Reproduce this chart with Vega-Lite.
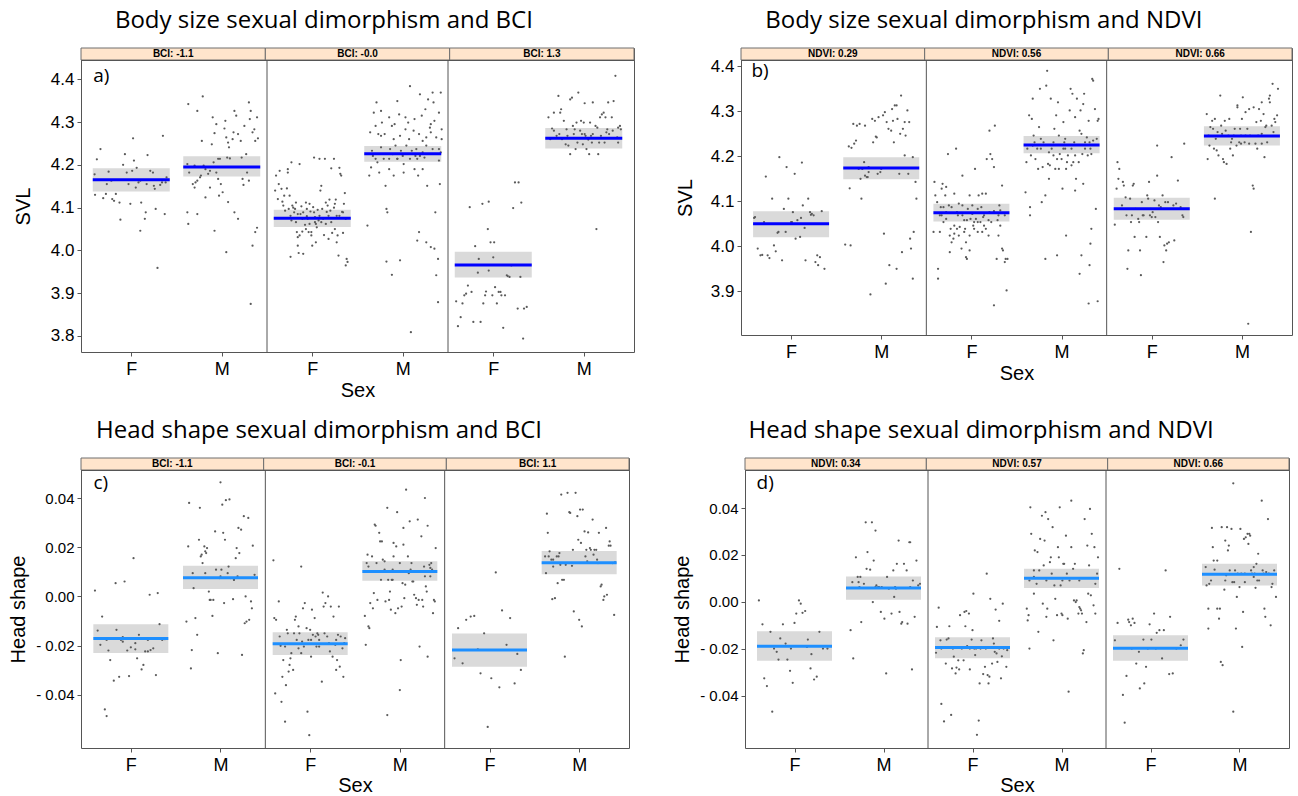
{
"$schema":"https://vega.github.io/schema/vega-lite/v6.json",
"background":"white",
"padding":{"left":8,"top":9,"right":0,"bottom":0},
"spacing":18,
"config":{
 "view":{"stroke":"#555555","strokeWidth":1},
 "axis":{"grid":false,"domain":false,"tickColor":"#555555","tickSize":4,"labelColor":"black","titleColor":"black","labelFont":"Liberation Sans","titleFont":"Liberation Sans","titleFontWeight":"normal","labelPadding":3},
 "title":{"font":"Open Sans","fontSize":24,"fontWeight":"normal","color":"black"}
},
"vconcat":[
{"hconcat":[
{"title":{"text":"Body size sexual dimorphism and BCI","anchor":"middle","baseline":"alphabetic","offset":-5},
 "spacing":0,"bounds":"flush",
 "vconcat":[
  {"width":553,"height":12,"data":{"values":[{"lab":"BCI: -1.1"},{"lab":"BCI: -0.0"},{"lab":"BCI: 1.3"}]},
   "encoding":{"x":{"field":"lab","type":"nominal","sort":null,"axis":null,"scale":{"paddingInner":0,"paddingOuter":0}}},
   "layer":[{"mark":{"type":"rect","fill":"#ffe5cc","stroke":"#6e6e6e","strokeWidth":1}},
            {"mark":{"type":"text","font":"Liberation Sans","fontWeight":"bold","fontSize":10,"baseline":"middle","color":"black"},"encoding":{"text":{"field":"lab"}}}]},
  {"width":553,"height":292,
   "layer":[
    {"data":{"values":[{"x":0.5,"y":4.165,"lo":4.138,"hi":4.192},{"x":1.5,"y":4.195,"lo":4.173,"hi":4.220},{"x":2.5,"y":4.075,"lo":4.055,"hi":4.095},{"x":3.5,"y":4.226,"lo":4.207,"hi":4.244},{"x":4.5,"y":3.966,"lo":3.937,"hi":3.997},{"x":5.5,"y":4.262,"lo":4.238,"hi":4.286}]},
     "mark":{"type":"bar","width":77,"fill":"#dadada"},
     "encoding":{"x":{"field":"x","type":"quantitative","scale":{"domain":[0,6],"nice":false,"zero":false}},
                 "y":{"field":"lo","type":"quantitative","scale":{"domain":[3.7626,4.4451],"nice":false,"zero":false}},
                 "y2":{"field":"hi"}}},
    {"data":{"values":"x,y\n0.095,4.178\n0.12,4.213\n0.16,4.237\n0.10,4.130\n0.19,4.122\n0.22,4.132\n0.23,4.155\n0.25,4.184\n0.28,4.163\n0.29,4.120\n0.31,4.116\n0.33,4.132\n0.37,4.112\n0.38,4.072\n0.41,4.200\n0.43,4.225\n0.45,4.182\n0.47,4.155\n0.49,4.109\n0.51,4.186\n0.52,4.262\n0.53,4.210\n0.55,4.147\n0.56,4.193\n0.58,4.159\n0.60,4.163\n0.61,4.112\n0.60,4.046\n0.65,4.074\n0.66,4.089\n0.67,4.155\n0.68,4.223\n0.71,4.186\n0.74,4.182\n0.75,4.151\n0.76,4.144\n0.77,4.097\n0.79,3.959\n0.82,4.153\n0.84,4.159\n0.85,4.268\n0.87,4.085\n0.88,4.159\n0.89,4.171\n1.13,4.342\n1.23,4.326\n1.29,4.360\n1.28,4.256\n1.12,4.202\n1.14,4.182\n1.18,4.155\n1.20,4.147\n1.21,4.159\n1.23,4.163\n1.26,4.171\n1.27,4.175\n1.32,4.190\n1.35,4.179\n1.37,4.186\n1.30,4.198\n1.20,4.198\n1.39,4.248\n1.40,4.311\n1.42,4.274\n1.44,4.295\n1.46,4.214\n1.47,4.128\n1.48,4.214\n1.49,4.155\n1.51,4.136\n1.53,4.285\n1.54,4.303\n1.55,4.264\n1.56,4.217\n1.57,4.252\n1.58,4.241\n1.59,4.215\n1.62,4.260\n1.63,4.276\n1.64,4.326\n1.66,4.315\n1.68,4.272\n1.71,4.256\n1.72,4.217\n1.73,4.167\n1.75,4.291\n1.77,4.225\n1.78,4.182\n1.80,4.163\n1.81,4.307\n1.82,4.326\n1.84,4.276\n1.86,4.283\n1.87,4.256\n1.89,4.311\n1.90,4.262\n1.57,4.113\n1.64,4.089\n1.68,4.074\n1.42,4.046\n1.12,4.089\n1.13,4.062\n1.23,4.085\n1.55,3.996\n1.82,3.875\n1.84,4.011\n1.87,4.043\n1.89,4.053\n1.32,4.124\n1.37,4.147\n1.46,4.167\n1.44,4.182\n1.41,4.206\n1.74,4.153\n1.80,4.346\n2.09,4.140\n2.10,4.175\n2.13,4.155\n2.14,4.186\n2.16,4.144\n2.17,4.114\n2.18,4.105\n2.20,4.093\n2.23,4.190\n2.23,4.182\n2.25,4.128\n2.26,4.081\n2.27,4.070\n2.28,4.105\n2.30,4.089\n2.32,4.066\n2.33,4.043\n2.34,4.011\n2.35,3.994\n2.36,4.035\n2.37,4.085\n2.38,4.103\n2.40,4.089\n2.41,4.075\n2.42,4.060\n2.43,4.112\n2.44,4.097\n2.45,4.074\n2.46,4.043\n2.47,4.062\n2.49,4.043\n2.50,4.011\n2.51,4.101\n2.52,4.089\n2.53,4.078\n2.54,4.062\n2.55,4.054\n2.56,4.095\n2.58,4.081\n2.59,4.140\n2.60,4.151\n2.61,4.097\n2.62,4.074\n2.63,4.036\n2.64,4.214\n2.65,4.112\n2.67,4.105\n2.68,4.081\n2.69,4.119\n2.70,4.093\n2.71,4.192\n2.72,4.041\n2.74,4.214\n2.75,4.109\n2.76,4.119\n2.77,4.081\n2.78,4.035\n2.79,3.988\n2.80,4.193\n2.81,4.179\n2.82,4.175\n2.84,4.041\n2.85,4.109\n2.86,4.134\n2.87,4.074\n2.88,3.980\n2.89,3.973\n2.87,3.965\n2.27,4.206\n2.36,4.202\n2.52,4.217\n2.58,4.214\n2.22,4.145\n2.24,4.097\n2.31,4.097\n2.34,4.085\n2.39,4.074\n2.43,4.050\n2.48,4.091\n2.53,4.066\n2.60,4.066\n2.65,4.062\n2.71,4.066\n2.75,4.050\n2.80,4.081\n2.84,4.089\n2.54,4.019\n2.49,4.035\n2.39,4.044\n2.34,4.031\n2.32,4.112\n2.47,4.109\n2.68,4.027\n2.77,4.019\n2.12,4.120\n2.19,4.128\n2.29,4.100\n2.44,4.080\n2.57,4.070\n2.66,4.090\n2.74,4.100\n2.83,4.090\n2.26,3.985\n2.40,3.992\n3.11,4.058\n3.13,4.175\n3.14,4.276\n3.16,4.233\n3.17,4.221\n3.18,4.322\n3.20,4.291\n3.21,4.346\n3.22,4.206\n3.23,4.272\n3.24,4.182\n3.26,4.326\n3.26,4.268\n3.27,4.299\n3.29,4.214\n3.30,4.272\n3.31,4.151\n3.32,4.097\n3.33,4.089\n3.35,4.190\n3.35,4.311\n3.36,4.237\n3.38,4.291\n3.39,4.225\n3.40,4.260\n3.41,4.295\n3.42,4.245\n3.44,4.214\n3.44,4.349\n3.46,4.318\n3.47,4.268\n3.48,4.233\n3.49,4.225\n3.50,4.221\n3.51,4.202\n3.53,4.283\n3.53,4.311\n3.54,4.245\n3.56,4.299\n3.57,4.260\n3.58,4.384\n3.59,3.809\n3.60,4.233\n3.62,4.280\n3.63,4.307\n3.64,4.221\n3.65,4.237\n3.66,4.214\n3.67,4.175\n3.68,4.272\n3.69,4.365\n3.71,4.315\n3.72,4.256\n3.72,4.229\n3.74,4.217\n3.75,4.330\n3.76,4.264\n3.77,4.151\n3.78,4.353\n3.80,4.287\n3.81,4.295\n3.81,4.276\n3.83,4.369\n3.84,4.346\n3.85,4.303\n3.86,4.089\n3.87,3.942\n3.89,3.879\n3.90,4.210\n3.91,4.155\n3.92,4.369\n3.93,4.260\n3.89,3.980\n3.85,4.004\n3.81,4.008\n3.76,4.019\n3.68,4.043\n3.66,4.023\n3.38,3.943\n3.32,3.974\n3.47,3.977\n3.69,4.221\n3.26,4.241\n3.20,4.214\n3.15,4.194\n3.63,4.190\n3.76,4.245\n3.83,4.237\n3.90,4.237\n3.58,4.214\n3.44,4.214\n3.35,4.214\n3.40,4.175\n3.51,4.182\n3.72,4.190\n3.92,4.229\n3.87,4.264\n3.93,4.283\n3.90,4.322\n4.09,3.881\n4.11,3.823\n4.14,3.844\n4.16,3.876\n4.18,3.895\n4.20,3.899\n4.22,3.918\n4.24,4.101\n4.26,3.903\n4.28,3.833\n4.30,4.010\n4.33,3.948\n4.36,3.833\n4.38,4.109\n4.39,3.876\n4.41,3.895\n4.42,3.904\n4.44,4.050\n4.45,4.114\n4.47,4.019\n4.49,3.895\n4.51,4.019\n4.52,3.914\n4.54,3.876\n4.56,3.903\n4.58,3.903\n4.59,3.895\n4.61,3.819\n4.63,3.895\n4.65,3.942\n4.68,3.938\n4.70,3.965\n4.72,4.099\n4.74,4.159\n4.77,3.864\n4.78,4.159\n4.80,3.938\n4.81,4.112\n4.83,3.794\n4.84,3.864\n4.87,3.868\n4.34,3.980\n4.45,3.953\n4.50,3.984\n4.66,3.940\n5.11,4.311\n5.13,4.260\n5.15,4.285\n5.17,4.280\n5.20,4.268\n5.22,4.361\n5.23,4.272\n5.24,4.322\n5.25,4.330\n5.26,4.260\n5.28,4.303\n5.30,4.248\n5.31,4.283\n5.32,4.268\n5.33,4.245\n5.35,4.225\n5.37,4.357\n5.38,4.291\n5.39,4.272\n5.40,4.283\n5.41,4.237\n5.42,4.299\n5.43,4.252\n5.44,4.369\n5.46,4.280\n5.47,4.303\n5.48,4.272\n5.49,4.248\n5.50,4.299\n5.51,4.272\n5.52,4.268\n5.53,4.237\n5.55,4.259\n5.56,4.225\n5.57,4.299\n5.58,4.268\n5.59,4.252\n5.60,4.272\n5.63,4.291\n5.64,4.050\n5.65,4.287\n5.66,4.225\n5.67,4.252\n5.68,4.311\n5.69,4.268\n5.70,4.318\n5.72,4.322\n5.73,4.252\n5.74,4.311\n5.75,4.276\n5.76,4.283\n5.77,4.346\n5.78,4.272\n5.81,4.311\n5.82,4.280\n5.83,4.349\n5.85,4.408\n5.87,4.264\n5.88,4.287\n5.88,4.252\n5.90,4.291\n5.91,4.283\n5.17,4.322\n5.51,4.344\n5.35,4.353\n5.60,4.346","format":{"type":"csv","parse":{"x":"number","y":"number"}}},
     "mark":{"type":"circle","size":5,"color":"#5a5a5a","opacity":1},
     "encoding":{"x":{"field":"x","type":"quantitative","scale":{"domain":[0,6],"nice":false,"zero":false},
                      "axis":{"values":[0.5,1.5,2.5,3.5,4.5,5.5],"labelExpr":"((datum.value - 0.5) % 2) == 0 ? 'F' : 'M'","title":"Sex","labelFontSize":18,"titleFontSize":20,"labelPadding":4,"titlePadding":2}},
                 "y":{"field":"y","type":"quantitative","scale":{"domain":[3.7626,4.4451],"nice":false,"zero":false},
                      "axis":{"values":[3.8,3.9,4.0,4.1,4.2,4.3,4.4],"format":".1f","title":"SVL","labelFontSize":17,"titleFontSize":20,"titlePadding":17}}}},
    {"data":{"values":[{"x":0.5,"y":4.165},{"x":1.5,"y":4.195},{"x":2.5,"y":4.075},{"x":3.5,"y":4.226},{"x":4.5,"y":3.966},{"x":5.5,"y":4.262}]},
     "mark":{"type":"tick","orient":"horizontal","size":77,"thickness":3,"color":"#0000ff","opacity":1},
     "encoding":{"x":{"field":"x","type":"quantitative","scale":{"domain":[0,6],"nice":false,"zero":false}},
                 "y":{"field":"y","type":"quantitative","scale":{"domain":[3.7626,4.4451],"nice":false,"zero":false}}}},
    {"data":{"values":[{"x":2},{"x":4}]},
     "mark":{"type":"rule","color":"#555555","strokeWidth":1},
     "encoding":{"x":{"field":"x","type":"quantitative","scale":{"domain":[0,6],"nice":false,"zero":false}}}},
    {"data":{"values":[{"t":"a)"}]},
     "mark":{"type":"text","font":"Open Sans","fontSize":19,"align":"left","baseline":"alphabetic","color":"black"},
     "encoding":{"x":{"datum":0.079,"type":"quantitative","scale":{"domain":[0,6],"nice":false,"zero":false}},
                 "y":{"datum":4.394,"type":"quantitative","scale":{"domain":[3.7626,4.4451],"nice":false,"zero":false}},
                 "text":{"field":"t"}}}
   ]}
 ]},
{"title":{"text":"Body size sexual dimorphism and NDVI","anchor":"middle","baseline":"alphabetic","offset":-5},
 "spacing":0,"bounds":"flush",
 "vconcat":[
  {"width":551,"height":12,"data":{"values":[{"lab":"NDVI: 0.29"},{"lab":"NDVI: 0.56"},{"lab":"NDVI: 0.66"}]},
   "encoding":{"x":{"field":"lab","type":"nominal","sort":null,"axis":null,"scale":{"paddingInner":0,"paddingOuter":0}}},
   "layer":[{"mark":{"type":"rect","fill":"#ffe5cc","stroke":"#6e6e6e","strokeWidth":1}},
            {"mark":{"type":"text","font":"Liberation Sans","fontWeight":"bold","fontSize":10,"baseline":"middle","color":"black"},"encoding":{"text":{"field":"lab"}}}]},
  {"width":551,"height":275,
   "layer":[
    {"data":{"values":[{"x":0.5,"y":4.050,"lo":4.020,"hi":4.078},{"x":1.5,"y":4.174,"lo":4.149,"hi":4.198},{"x":2.5,"y":4.0746,"lo":4.0553,"hi":4.0945},{"x":3.5,"y":4.2254,"lo":4.207,"hi":4.2454},{"x":4.5,"y":4.0834,"lo":4.059,"hi":4.108},{"x":5.5,"y":4.2454,"lo":4.224,"hi":4.2669}]},
     "mark":{"type":"bar","width":76,"fill":"#dadada"},
     "encoding":{"x":{"field":"x","type":"quantitative","scale":{"domain":[0,6],"nice":false,"zero":false}},
                 "y":{"field":"lo","type":"quantitative","scale":{"domain":[3.803,4.414],"nice":false,"zero":false}},
                 "y2":{"field":"hi"}}},
    {"data":{"values":"x,y\n0.09,4.063\n0.10,4.065\n0.13,3.995\n0.16,3.980\n0.18,3.981\n0.22,4.155\n0.24,3.980\n0.26,3.974\n0.29,4.106\n0.31,4.002\n0.33,3.989\n0.35,4.030\n0.37,4.198\n0.40,3.969\n0.42,4.083\n0.44,4.032\n0.45,4.176\n0.47,4.106\n0.50,4.054\n0.52,4.076\n0.54,4.161\n0.55,4.017\n0.57,4.058\n0.60,4.021\n0.62,4.186\n0.63,4.091\n0.65,4.041\n0.66,3.969\n0.69,4.106\n0.71,4.076\n0.73,4.072\n0.75,4.069\n0.77,3.965\n0.79,3.980\n0.80,3.958\n0.82,3.976\n0.84,4.078\n0.87,3.950\n0.20,4.054\n0.36,4.032\n0.51,4.054\n0.61,4.063\n0.72,4.070\n1.10,4.004\n1.14,4.222\n1.15,4.129\n1.16,4.002\n1.17,4.219\n1.19,4.272\n1.20,4.228\n1.22,4.235\n1.23,4.268\n1.25,4.172\n1.26,4.272\n1.28,4.106\n1.29,4.172\n1.31,4.187\n1.32,4.268\n1.32,4.157\n1.34,4.154\n1.35,4.154\n1.36,4.165\n1.38,3.893\n1.40,4.283\n1.41,4.231\n1.43,4.279\n1.44,4.244\n1.45,4.242\n1.46,4.161\n1.47,4.287\n1.49,4.165\n1.50,4.172\n1.52,4.291\n1.53,4.028\n1.54,4.298\n1.55,3.917\n1.56,4.276\n1.58,4.261\n1.59,3.958\n1.61,4.257\n1.62,4.305\n1.63,4.279\n1.64,4.231\n1.65,4.313\n1.67,4.313\n1.67,3.950\n1.68,4.283\n1.70,4.161\n1.71,4.250\n1.72,4.335\n1.73,3.987\n1.74,4.261\n1.76,4.276\n1.76,4.202\n1.77,4.246\n1.79,4.302\n1.80,4.161\n1.81,4.276\n1.82,4.017\n1.83,3.995\n1.85,3.928\n1.85,4.198\n1.86,4.032\n1.88,4.143\n1.89,4.106\n1.27,4.150\n1.36,4.176\n2.08,4.032\n2.09,4.143\n2.10,4.113\n2.12,4.098\n2.13,3.950\n2.13,3.928\n2.15,4.032\n2.16,4.087\n2.17,4.128\n2.18,4.139\n2.19,4.087\n2.21,4.113\n2.22,4.132\n2.22,4.076\n2.24,4.205\n2.25,4.091\n2.26,3.987\n2.27,4.039\n2.28,4.009\n2.30,4.017\n2.31,4.117\n2.31,4.028\n2.33,4.217\n2.34,4.039\n2.35,4.069\n2.36,4.095\n2.37,4.043\n2.39,3.995\n2.40,4.091\n2.40,4.157\n2.42,4.058\n2.43,4.039\n2.44,3.976\n2.45,3.972\n2.46,4.083\n2.48,4.113\n2.48,3.991\n2.49,4.061\n2.51,4.091\n2.52,4.046\n2.53,4.039\n2.54,4.172\n2.55,4.061\n2.57,4.054\n2.57,4.032\n2.58,4.113\n2.60,4.054\n2.61,4.087\n2.62,4.117\n2.63,4.065\n2.64,4.046\n2.66,4.039\n2.66,4.117\n2.67,4.194\n2.69,4.058\n2.70,4.257\n2.71,4.205\n2.72,4.054\n2.73,4.194\n2.75,3.869\n2.75,4.176\n2.76,4.268\n2.78,3.972\n2.79,4.058\n2.80,4.069\n2.81,4.091\n2.82,4.046\n2.84,3.995\n2.84,4.135\n2.85,3.991\n2.87,3.965\n2.88,3.972\n2.89,3.902\n2.90,3.972\n2.17,4.069\n2.22,4.061\n2.28,4.087\n2.34,4.076\n2.40,4.069\n2.45,4.058\n2.51,4.072\n2.57,4.083\n2.64,4.069\n2.70,4.076\n2.75,4.078\n2.82,4.080\n2.87,4.069\n2.19,4.054\n2.31,4.046\n2.42,4.032\n2.53,4.054\n2.62,4.032\n2.69,4.024\n2.80,4.024\n2.44,4.009\n2.26,4.024\n2.15,4.069\n2.36,4.024\n2.48,4.024\n3.10,4.120\n3.11,4.187\n3.12,4.217\n3.14,4.291\n3.15,4.087\n3.16,4.202\n3.17,4.283\n3.18,4.328\n3.19,4.246\n3.20,4.231\n3.21,4.194\n3.23,4.217\n3.24,4.172\n3.25,4.265\n3.26,4.350\n3.27,4.217\n3.28,4.098\n3.29,4.176\n3.30,4.231\n3.32,4.113\n3.33,4.357\n3.34,4.390\n3.35,4.183\n3.36,4.150\n3.37,4.180\n3.38,4.328\n3.39,4.217\n3.41,4.202\n3.42,4.261\n3.43,4.172\n3.44,4.291\n3.45,4.194\n3.46,4.320\n3.47,4.246\n3.48,4.205\n3.50,4.194\n3.51,4.128\n3.52,4.276\n3.53,4.231\n3.54,4.217\n3.55,4.172\n3.56,4.187\n3.57,4.202\n3.59,4.302\n3.60,4.350\n3.61,4.217\n3.62,4.339\n3.63,4.187\n3.64,4.231\n3.65,4.287\n3.66,4.150\n3.67,4.328\n3.69,4.187\n3.70,4.257\n3.71,4.302\n3.72,4.250\n3.73,4.205\n3.74,4.316\n3.75,4.339\n3.76,4.231\n3.78,4.242\n3.79,4.202\n3.80,4.279\n3.81,4.231\n3.82,4.217\n3.83,4.205\n3.84,4.372\n3.85,4.368\n3.87,4.305\n3.88,4.083\n3.89,4.239\n3.90,4.279\n3.91,4.283\n3.70,3.939\n3.72,3.980\n3.80,3.873\n3.82,4.006\n3.83,4.039\n3.90,3.878\n3.81,3.958\n3.55,4.024\n3.45,3.980\n3.32,3.972\n3.15,4.069\n3.65,4.124\n3.74,4.139\n3.54,4.239\n3.41,4.231\n3.27,4.239\n3.18,4.224\n3.52,4.217\n3.76,4.217\n3.85,4.235\n3.65,4.202\n3.36,4.209\n3.47,4.172\n3.61,4.180\n4.09,4.048\n4.11,4.128\n4.12,4.187\n4.13,4.150\n4.14,4.172\n4.15,4.083\n4.17,4.091\n4.18,4.143\n4.19,4.135\n4.21,4.109\n4.22,4.069\n4.23,3.950\n4.24,3.991\n4.26,4.106\n4.27,4.054\n4.28,4.069\n4.29,4.135\n4.30,4.139\n4.31,4.021\n4.32,4.083\n4.35,4.061\n4.36,4.054\n4.37,3.991\n4.38,3.936\n4.39,4.098\n4.40,4.069\n4.41,4.069\n4.44,4.021\n4.45,4.113\n4.46,4.106\n4.47,4.143\n4.48,4.069\n4.49,4.083\n4.50,4.065\n4.51,4.076\n4.53,4.102\n4.54,4.065\n4.56,4.157\n4.57,4.054\n4.58,4.091\n4.59,4.021\n4.60,4.087\n4.62,4.113\n4.63,3.965\n4.64,4.002\n4.65,4.098\n4.66,3.991\n4.67,4.006\n4.68,4.098\n4.69,4.009\n4.72,4.198\n4.74,4.091\n4.75,4.013\n4.77,4.095\n4.79,4.146\n4.82,4.087\n4.84,4.069\n4.85,4.065\n4.86,4.228\n4.56,4.224\n5.11,4.294\n5.12,4.194\n5.13,4.246\n5.14,4.224\n5.15,4.265\n5.17,4.279\n5.18,4.261\n5.19,4.217\n5.20,4.283\n5.21,4.239\n5.22,4.213\n5.23,4.254\n5.24,4.202\n5.26,4.335\n5.27,4.268\n5.28,4.250\n5.29,4.194\n5.30,4.187\n5.31,4.279\n5.32,4.257\n5.33,4.183\n5.35,4.246\n5.36,4.283\n5.37,4.217\n5.38,4.231\n5.39,4.239\n5.40,4.202\n5.41,4.246\n5.42,4.261\n5.44,4.224\n5.45,4.309\n5.45,4.313\n5.47,4.231\n5.48,4.261\n5.49,4.246\n5.50,4.283\n5.51,4.331\n5.53,4.231\n5.54,4.246\n5.54,4.298\n5.56,4.261\n5.57,3.828\n5.58,4.305\n5.59,4.246\n5.60,4.032\n5.62,4.135\n5.63,4.309\n5.63,4.128\n5.65,4.228\n5.66,4.276\n5.67,4.217\n5.68,4.246\n5.69,4.305\n5.71,4.279\n5.72,4.320\n5.72,4.250\n5.74,4.294\n5.75,4.198\n5.76,4.265\n5.77,4.268\n5.78,4.231\n5.80,4.328\n5.81,4.335\n5.81,4.320\n5.83,4.268\n5.84,4.361\n5.85,4.254\n5.86,4.283\n5.87,4.276\n5.89,4.291\n5.90,4.350\n5.20,4.106\n5.49,4.228\n5.58,4.228\n5.72,4.228","format":{"type":"csv","parse":{"x":"number","y":"number"}}},
     "mark":{"type":"circle","size":5,"color":"#5a5a5a","opacity":1},
     "encoding":{"x":{"field":"x","type":"quantitative","scale":{"domain":[0,6],"nice":false,"zero":false},
                      "axis":{"values":[0.5,1.5,2.5,3.5,4.5,5.5],"labelExpr":"((datum.value - 0.5) % 2) == 0 ? 'F' : 'M'","title":"Sex","labelFontSize":18,"titleFontSize":20,"labelPadding":4,"titlePadding":2}},
                 "y":{"field":"y","type":"quantitative","scale":{"domain":[3.803,4.414],"nice":false,"zero":false},
                      "axis":{"values":[3.9,4.0,4.1,4.2,4.3,4.4],"format":".1f","title":"SVL","labelFontSize":17,"titleFontSize":20,"titlePadding":15}}}},
    {"data":{"values":[{"x":0.5,"y":4.050},{"x":1.5,"y":4.174},{"x":2.5,"y":4.0746},{"x":3.5,"y":4.2254},{"x":4.5,"y":4.0834},{"x":5.5,"y":4.2454}]},
     "mark":{"type":"tick","orient":"horizontal","size":76,"thickness":3,"color":"#0000ff","opacity":1},
     "encoding":{"x":{"field":"x","type":"quantitative","scale":{"domain":[0,6],"nice":false,"zero":false}},
                 "y":{"field":"y","type":"quantitative","scale":{"domain":[3.803,4.414],"nice":false,"zero":false}}}},
    {"data":{"values":[{"x":2},{"x":4}]},
     "mark":{"type":"rule","color":"#555555","strokeWidth":1},
     "encoding":{"x":{"field":"x","type":"quantitative","scale":{"domain":[0,6],"nice":false,"zero":false}}}},
    {"data":{"values":[{"t":"b)"}]},
     "mark":{"type":"text","font":"Open Sans","fontSize":19,"align":"left","baseline":"alphabetic","color":"black"},
     "encoding":{"x":{"datum":0.06,"type":"quantitative","scale":{"domain":[0,6],"nice":false,"zero":false}},
                 "y":{"datum":4.376,"type":"quantitative","scale":{"domain":[3.803,4.414],"nice":false,"zero":false}},
                 "text":{"field":"t"}}}
   ]}
 ]}
],"spacing":39},
{"hconcat":[
{"title":{"text":"Head shape sexual dimorphism and BCI","anchor":"middle","baseline":"alphabetic","offset":-5},
 "spacing":0,"bounds":"flush",
 "vconcat":[
  {"width":548,"height":12,"data":{"values":[{"lab":"BCI: -1.1"},{"lab":"BCI: -0.1"},{"lab":"BCI: 1.1"}]},
   "encoding":{"x":{"field":"lab","type":"nominal","sort":null,"axis":null,"scale":{"paddingInner":0,"paddingOuter":0}}},
   "layer":[{"mark":{"type":"rect","fill":"#ffe5cc","stroke":"#6e6e6e","strokeWidth":1}},
            {"mark":{"type":"text","font":"Liberation Sans","fontWeight":"bold","fontSize":10,"baseline":"middle","color":"black"},"encoding":{"text":{"field":"lab"}}}]},
  {"width":548,"height":278,
   "layer":[
    {"data":{"values":[{"x":0.5,"y":-0.0171,"lo":-0.0230,"hi":-0.0113},{"x":1.5,"y":0.0076,"lo":0.0030,"hi":0.0125},{"x":2.5,"y":-0.0193,"lo":-0.0238,"hi":-0.0146},{"x":3.5,"y":0.0102,"lo":0.0064,"hi":0.0143},{"x":4.5,"y":-0.0218,"lo":-0.0286,"hi":-0.0151},{"x":5.5,"y":0.0137,"lo":0.0090,"hi":0.0185}]},
     "mark":{"type":"bar","width":75,"fill":"#dadada"},
     "encoding":{"x":{"field":"x","type":"quantitative","scale":{"domain":[0,6],"nice":false,"zero":false}},
                 "y":{"field":"lo","type":"quantitative","scale":{"domain":[-0.0617,0.0515],"nice":false,"zero":false}},
                 "y2":{"field":"hi"}}},
    {"data":{"values":"x,y\n0.10,0.0024\n0.13,-0.0139\n0.16,-0.0197\n0.18,-0.0082\n0.21,-0.0460\n0.23,-0.0487\n0.25,-0.0220\n0.27,-0.0259\n0.31,-0.0343\n0.33,0.0054\n0.34,-0.0136\n0.37,-0.0327\n0.39,-0.0177\n0.41,-0.0166\n0.43,0.0061\n0.46,-0.0220\n0.48,-0.0324\n0.50,-0.0207\n0.53,0.0156\n0.55,-0.0215\n0.57,-0.0252\n0.59,-0.0156\n0.62,-0.0297\n0.64,-0.0279\n0.66,-0.0224\n0.69,-0.0224\n0.71,0.0007\n0.72,-0.0218\n0.75,-0.0211\n0.78,-0.0320\n0.80,0.0014\n0.82,-0.0113\n0.85,-0.0177\n0.88,-0.0174\n0.23,-0.0177\n0.41,-0.0184\n0.55,-0.0190\n0.69,-0.0177\n1.12,-0.0102\n1.14,0.0204\n1.15,0.0381\n1.17,-0.0293\n1.18,-0.0218\n1.20,0.0034\n1.22,-0.0088\n1.24,-0.0156\n1.26,0.0231\n1.27,0.0361\n1.28,0.0163\n1.29,0.0170\n1.30,0.0136\n1.32,0.0204\n1.33,0.0184\n1.34,0.0177\n1.35,0.0197\n1.37,0.0020\n1.38,-0.0014\n1.39,-0.0014\n1.41,-0.0079\n1.42,-0.0014\n1.44,0.0265\n1.45,0.0109\n1.47,-0.0231\n1.49,0.0075\n1.50,0.0465\n1.50,0.0082\n1.52,0.0374\n1.53,0.0259\n1.54,-0.0027\n1.55,0.0231\n1.56,0.0392\n1.58,0.0095\n1.59,0.0122\n1.60,0.0395\n1.61,0.0075\n1.64,-0.0011\n1.65,0.0068\n1.65,0.0068\n1.67,0.0156\n1.68,0.0197\n1.70,0.0279\n1.71,0.0177\n1.73,0.0272\n1.74,-0.0238\n1.76,0.0327\n1.77,-0.0109\n1.78,0.0000\n1.79,-0.0102\n1.81,0.0320\n1.82,-0.0095\n1.84,-0.0020\n1.85,-0.0048\n1.86,0.0207\n1.88,0.0088\n1.19,0.0095\n1.33,0.0095\n1.51,0.0109\n1.69,0.0082\n2.09,0.0147\n2.10,-0.0088\n2.11,-0.0395\n2.12,-0.0095\n2.15,-0.0020\n2.16,-0.0163\n2.17,-0.0201\n2.18,-0.0429\n2.19,-0.0327\n2.20,-0.0259\n2.22,-0.0510\n2.23,-0.0361\n2.24,-0.0136\n2.25,-0.0150\n2.26,-0.0306\n2.27,-0.0279\n2.28,-0.0252\n2.29,-0.0231\n2.31,-0.0299\n2.32,-0.0150\n2.33,-0.0095\n2.34,-0.0082\n2.35,-0.0177\n2.37,-0.0122\n2.37,-0.0211\n2.38,-0.0150\n2.40,0.0122\n2.41,-0.0184\n2.42,-0.0048\n2.43,-0.0204\n2.44,-0.0027\n2.46,-0.0129\n2.47,-0.0469\n2.48,-0.0177\n2.49,-0.0565\n2.50,-0.0136\n2.51,-0.0245\n2.52,-0.0054\n2.53,-0.0156\n2.55,-0.0088\n2.56,-0.0163\n2.57,-0.0204\n2.58,-0.0150\n2.59,-0.0156\n2.60,-0.0204\n2.63,-0.0347\n2.64,0.0016\n2.65,-0.0041\n2.66,-0.0150\n2.67,-0.0027\n2.69,-0.0163\n2.70,0.0000\n2.71,-0.0190\n2.72,-0.0224\n2.73,-0.0041\n2.75,-0.0245\n2.76,-0.0082\n2.78,-0.0197\n2.79,-0.0299\n2.80,-0.0259\n2.81,-0.0156\n2.82,-0.0041\n2.83,-0.0286\n2.84,-0.0163\n2.86,-0.0211\n2.87,-0.0327\n2.88,-0.0190\n2.89,-0.0170\n2.22,-0.0204\n2.40,-0.0231\n2.51,-0.0177\n2.60,-0.0177\n2.79,-0.0177\n3.11,-0.0079\n3.12,-0.0197\n3.13,0.0136\n3.14,0.0170\n3.15,-0.0122\n3.16,-0.0129\n3.17,-0.0027\n3.19,0.0163\n3.20,-0.0048\n3.21,0.0014\n3.22,0.0293\n3.23,0.0288\n3.24,0.0136\n3.25,-0.0014\n3.27,0.0259\n3.28,0.0224\n3.29,0.0068\n3.30,0.0224\n3.31,0.0150\n3.33,0.0109\n3.33,0.0143\n3.34,-0.0020\n3.36,0.0361\n3.36,-0.0483\n3.37,0.0068\n3.38,-0.0014\n3.39,0.0020\n3.40,-0.0054\n3.41,0.0068\n3.42,0.0068\n3.43,0.0218\n3.45,-0.0068\n3.46,0.0204\n3.47,0.0343\n3.48,-0.0048\n3.50,-0.0381\n3.51,-0.0259\n3.52,-0.0041\n3.53,0.0054\n3.54,0.0279\n3.55,-0.0007\n3.56,0.0048\n3.57,0.0435\n3.59,0.0163\n3.60,0.0095\n3.61,0.0306\n3.62,0.0109\n3.63,0.0136\n3.64,0.0061\n3.65,0.0061\n3.66,0.0007\n3.68,-0.0007\n3.69,-0.0034\n3.70,0.0313\n3.71,-0.0014\n3.72,-0.0204\n3.74,0.0245\n3.75,-0.0014\n3.76,-0.0041\n3.77,0.0122\n3.78,0.0082\n3.79,0.0041\n3.80,0.0020\n3.81,0.0288\n3.83,0.0129\n3.84,0.0082\n3.85,0.0136\n3.86,0.0109\n3.87,-0.0068\n3.88,-0.0014\n3.89,-0.0020\n3.90,0.0197\n3.78,0.0401\n3.81,-0.0245\n3.54,0.0211\n3.43,0.0163\n3.15,0.0122\n3.30,0.0102\n3.65,0.0102\n3.84,0.0116\n3.42,0.0109\n3.50,0.0136\n4.11,-0.0252\n4.15,-0.0129\n4.20,-0.0272\n4.24,-0.0095\n4.29,-0.0082\n4.33,-0.0079\n4.40,-0.0313\n4.44,-0.0150\n4.48,-0.0531\n4.52,-0.0333\n4.57,0.0098\n4.61,-0.0370\n4.64,-0.0057\n4.69,-0.0197\n4.73,-0.0088\n4.78,-0.0354\n4.81,-0.0234\n4.85,-0.0299\n4.37,-0.0215\n5.12,0.0163\n5.13,0.0095\n5.14,0.0337\n5.15,0.0259\n5.16,0.0163\n5.17,0.0184\n5.19,0.0150\n5.20,-0.0011\n5.21,0.0150\n5.23,-0.0007\n5.25,0.0163\n5.26,0.0054\n5.27,0.0163\n5.28,0.0177\n5.29,0.0129\n5.30,0.0415\n5.31,0.0068\n5.33,0.0068\n5.34,-0.0245\n5.35,0.0129\n5.37,0.0422\n5.39,0.0343\n5.40,0.0340\n5.42,0.0125\n5.43,0.0190\n5.44,-0.0061\n5.46,0.0422\n5.48,0.0327\n5.49,0.0231\n5.50,-0.0095\n5.51,0.0354\n5.52,0.0218\n5.53,-0.0122\n5.54,0.0354\n5.56,0.0265\n5.57,0.0163\n5.58,0.0190\n5.59,0.0143\n5.60,0.0261\n5.62,0.0197\n5.63,0.0190\n5.65,0.0313\n5.66,0.0170\n5.67,0.0190\n5.69,0.0190\n5.70,0.0150\n5.72,0.0259\n5.74,0.0041\n5.75,0.0048\n5.77,-0.0014\n5.78,0.0000\n5.80,0.0279\n5.81,0.0007\n5.83,0.0207\n5.84,0.0224\n5.85,0.0207\n5.87,0.0136\n5.89,-0.0075\n5.90,0.0139\n5.21,0.0122\n5.44,0.0136\n5.71,0.0136","format":{"type":"csv","parse":{"x":"number","y":"number"}}},
     "mark":{"type":"circle","size":5,"color":"#5a5a5a","opacity":1},
     "encoding":{"x":{"field":"x","type":"quantitative","scale":{"domain":[0,6],"nice":false,"zero":false},
                      "axis":{"values":[0.5,1.5,2.5,3.5,4.5,5.5],"labelExpr":"((datum.value - 0.5) % 2) == 0 ? 'F' : 'M'","title":"Sex","labelFontSize":18,"titleFontSize":20,"labelPadding":4,"titlePadding":1}},
                 "y":{"field":"y","type":"quantitative","scale":{"domain":[-0.0617,0.0515],"nice":false,"zero":false},
                      "axis":{"values":[-0.04,-0.02,0,0.02,0.04],"labelExpr":"datum.value < -0.0001 ? '- ' + format(-datum.value, '.2f') : format(datum.value, '.2f')","title":"Head shape","labelFontSize":15,"titleFontSize":20,"titlePadding":7}}}},
    {"data":{"values":[{"x":0.5,"y":-0.0171},{"x":1.5,"y":0.0076},{"x":2.5,"y":-0.0193},{"x":3.5,"y":0.0102},{"x":4.5,"y":-0.0218},{"x":5.5,"y":0.0137}]},
     "mark":{"type":"tick","orient":"horizontal","size":75,"thickness":3,"color":"#1e8fff","opacity":1},
     "encoding":{"x":{"field":"x","type":"quantitative","scale":{"domain":[0,6],"nice":false,"zero":false}},
                 "y":{"field":"y","type":"quantitative","scale":{"domain":[-0.0617,0.0515],"nice":false,"zero":false}}}},
    {"data":{"values":[{"x":2},{"x":4}]},
     "mark":{"type":"rule","color":"#555555","strokeWidth":1},
     "encoding":{"x":{"field":"x","type":"quantitative","scale":{"domain":[0,6],"nice":false,"zero":false}}}},
    {"data":{"values":[{"t":"c)"}]},
     "mark":{"type":"text","font":"Open Sans","fontSize":19,"align":"left","baseline":"alphabetic","color":"black"},
     "encoding":{"x":{"datum":0.083,"type":"quantitative","scale":{"domain":[0,6],"nice":false,"zero":false}},
                 "y":{"datum":0.0437,"type":"quantitative","scale":{"domain":[-0.0617,0.0515],"nice":false,"zero":false}},
                 "text":{"field":"t"}}}
   ]}
 ]},
{"title":{"text":"Head shape sexual dimorphism and NDVI","anchor":"middle","baseline":"alphabetic","offset":-5},
 "spacing":0,"bounds":"flush",
 "vconcat":[
  {"width":544,"height":12,"data":{"values":[{"lab":"NDVI: 0.34"},{"lab":"NDVI: 0.57"},{"lab":"NDVI: 0.66"}]},
   "encoding":{"x":{"field":"lab","type":"nominal","sort":null,"axis":null,"scale":{"paddingInner":0,"paddingOuter":0}}},
   "layer":[{"mark":{"type":"rect","fill":"#ffe5cc","stroke":"#6e6e6e","strokeWidth":1}},
            {"mark":{"type":"text","font":"Liberation Sans","fontWeight":"bold","fontSize":10,"baseline":"middle","color":"black"},"encoding":{"text":{"field":"lab"}}}]},
  {"width":544,"height":278,
   "layer":[
    {"data":{"values":[{"x":0.5,"y":-0.0189,"lo":-0.0251,"hi":-0.0125},{"x":1.5,"y":0.0059,"lo":0.0009,"hi":0.0108},{"x":2.5,"y":-0.0195,"lo":-0.0240,"hi":-0.0151},{"x":3.5,"y":0.0101,"lo":0.0059,"hi":0.0141},{"x":4.5,"y":-0.0198,"lo":-0.0251,"hi":-0.0142},{"x":5.5,"y":0.0118,"lo":0.0070,"hi":0.0162}]},
     "mark":{"type":"bar","width":75,"fill":"#dadada"},
     "encoding":{"x":{"field":"x","type":"quantitative","scale":{"domain":[0,6],"nice":false,"zero":false}},
                 "y":{"field":"lo","type":"quantitative","scale":{"domain":[-0.0623,0.0562],"nice":false,"zero":false}},
                 "y2":{"field":"hi"}}},
    {"data":{"values":"x,y\n0.10,0.0006\n0.14,-0.0096\n0.16,-0.0326\n0.19,-0.0359\n0.23,-0.0128\n0.25,-0.0468\n0.27,-0.0189\n0.30,-0.0213\n0.32,-0.0246\n0.34,-0.0156\n0.37,-0.0096\n0.40,-0.0178\n0.42,-0.0246\n0.45,-0.0294\n0.48,-0.0345\n0.50,-0.0090\n0.52,-0.0050\n0.55,0.0006\n0.57,-0.0008\n0.59,-0.0047\n0.62,-0.0039\n0.65,-0.0161\n0.68,-0.0284\n0.69,-0.0223\n0.72,-0.0331\n0.75,-0.0319\n0.78,-0.0128\n0.82,-0.0199\n0.87,-0.0199\n0.27,-0.0199\n0.46,-0.0199\n0.64,-0.0192\n1.13,-0.0121\n1.15,0.0084\n1.16,-0.0241\n1.19,0.0190\n1.21,0.0106\n1.22,0.0084\n1.24,0.0106\n1.25,-0.0086\n1.28,0.0077\n1.30,0.0339\n1.31,0.0141\n1.32,0.0212\n1.35,0.0137\n1.37,0.0339\n1.38,-0.0001\n1.39,0.0176\n1.41,0.0304\n1.42,0.0070\n1.44,0.0063\n1.45,0.0063\n1.47,-0.0043\n1.48,0.0063\n1.51,-0.0072\n1.53,-0.0305\n1.54,0.0106\n1.56,0.0056\n1.59,-0.0050\n1.61,0.0134\n1.62,0.0021\n1.63,0.0063\n1.65,0.0162\n1.67,0.0261\n1.68,-0.0043\n1.70,-0.0093\n1.71,-0.0086\n1.73,0.0162\n1.76,0.0134\n1.77,-0.0093\n1.79,0.0254\n1.80,0.0254\n1.82,-0.0288\n1.83,0.0091\n1.85,-0.0064\n1.87,0.0176\n1.89,0.0070\n1.91,0.0077\n1.23,0.0063\n1.41,0.0063\n1.64,0.0056\n1.80,0.0063\n2.09,-0.0217\n2.10,-0.0107\n2.12,-0.0025\n2.14,-0.0164\n2.15,-0.0435\n2.17,-0.0195\n2.18,-0.0510\n2.20,-0.0263\n2.21,-0.0161\n2.23,-0.0156\n2.24,-0.0104\n2.26,-0.0482\n2.27,-0.0284\n2.29,-0.0234\n2.31,-0.0305\n2.32,-0.0280\n2.34,-0.0249\n2.35,-0.0288\n2.36,-0.0057\n2.38,-0.0199\n2.40,-0.0249\n2.41,-0.0043\n2.42,-0.0104\n2.43,-0.0039\n2.44,-0.0189\n2.46,-0.0050\n2.47,-0.0288\n2.49,-0.0161\n2.50,-0.0121\n2.51,0.0035\n2.52,-0.0199\n2.53,-0.0227\n2.54,-0.0199\n2.55,-0.0567\n2.57,-0.0506\n2.58,-0.0348\n2.59,-0.0199\n2.60,-0.0164\n2.62,-0.0308\n2.64,-0.0277\n2.66,0.0120\n2.67,-0.0312\n2.68,-0.0348\n2.69,-0.0319\n2.70,0.0013\n2.72,-0.0263\n2.73,-0.0156\n2.74,-0.0178\n2.75,-0.0213\n2.76,-0.0033\n2.77,-0.0220\n2.78,-0.0256\n2.80,-0.0081\n2.82,-0.0326\n2.83,-0.0232\n2.84,-0.0008\n2.85,-0.0199\n2.88,-0.0277\n2.89,-0.0206\n2.15,-0.0199\n2.28,-0.0199\n2.47,-0.0199\n2.65,-0.0199\n2.80,-0.0199\n3.11,-0.0029\n3.12,-0.0079\n3.13,-0.0057\n3.14,-0.0199\n3.14,0.0091\n3.15,0.0403\n3.16,0.0290\n3.19,0.0134\n3.19,0.0035\n3.20,0.0219\n3.22,0.0077\n3.23,0.0212\n3.24,-0.0128\n3.25,0.0134\n3.26,0.0268\n3.28,0.0367\n3.29,-0.0008\n3.30,0.0155\n3.31,0.0261\n3.32,0.0382\n3.33,-0.0064\n3.34,-0.0029\n3.35,0.0353\n3.37,0.0169\n3.38,0.0190\n3.39,0.0120\n3.40,0.0318\n3.41,-0.0164\n3.42,0.0070\n3.43,0.0013\n3.45,-0.0057\n3.46,0.0233\n3.47,0.0190\n3.48,0.0403\n3.49,0.0070\n3.50,-0.0050\n3.51,-0.0057\n3.52,0.0162\n3.53,0.0162\n3.55,0.0282\n3.56,0.0120\n3.57,-0.0072\n3.58,-0.0383\n3.59,0.0091\n3.61,0.0431\n3.61,0.0233\n3.63,0.0141\n3.64,0.0006\n3.65,0.0162\n3.66,-0.0001\n3.67,0.0006\n3.69,-0.0050\n3.70,-0.0022\n3.71,-0.0029\n3.72,-0.0036\n3.73,-0.0050\n3.74,-0.0220\n3.75,-0.0206\n3.76,0.0353\n3.78,-0.0086\n3.79,0.0240\n3.80,0.0035\n3.81,0.0155\n3.82,0.0396\n3.83,0.0028\n3.84,0.0290\n3.86,-0.0015\n3.87,0.0233\n3.88,0.0077\n3.88,-0.0050\n3.90,0.0120\n3.91,0.0190\n3.33,0.0091\n3.51,0.0091\n3.70,0.0091\n3.19,0.0106\n4.10,-0.0164\n4.13,-0.0090\n4.15,0.0141\n4.19,-0.0397\n4.21,-0.0515\n4.23,-0.0316\n4.25,-0.0076\n4.26,-0.0086\n4.28,-0.0100\n4.30,-0.0072\n4.32,-0.0090\n4.34,-0.0263\n4.37,-0.0213\n4.38,-0.0369\n4.42,-0.0161\n4.43,-0.0348\n4.45,-0.0277\n4.47,-0.0199\n4.49,-0.0096\n4.51,-0.0161\n4.54,-0.0050\n4.57,-0.0132\n4.60,-0.0121\n4.63,-0.0241\n4.65,-0.0121\n4.67,0.0134\n4.71,-0.0308\n4.72,-0.0064\n4.75,-0.0305\n4.79,-0.0199\n4.84,-0.0185\n4.87,-0.0161\n4.29,-0.0199\n4.56,-0.0199\n5.12,0.0148\n5.13,0.0070\n5.15,-0.0114\n5.15,-0.0029\n5.16,0.0077\n5.18,0.0091\n5.19,0.0315\n5.20,0.0233\n5.21,0.0176\n5.22,0.0137\n5.25,-0.0029\n5.25,0.0176\n5.27,-0.0072\n5.28,-0.0029\n5.29,-0.0256\n5.30,0.0318\n5.31,-0.0270\n5.33,0.0052\n5.34,0.0261\n5.35,0.0113\n5.36,0.0318\n5.37,0.0219\n5.38,0.0240\n5.39,0.0134\n5.41,0.0311\n5.42,0.0084\n5.43,-0.0468\n5.44,0.0084\n5.45,0.0134\n5.46,-0.0114\n5.47,0.0021\n5.48,0.0120\n5.50,0.0063\n5.51,0.0311\n5.52,0.0120\n5.53,-0.0192\n5.54,-0.0043\n5.55,0.0268\n5.56,0.0084\n5.57,0.0275\n5.59,0.0290\n5.60,0.0247\n5.61,0.0290\n5.62,0.0282\n5.63,0.0134\n5.64,0.0120\n5.66,0.0148\n5.67,0.0120\n5.68,0.0060\n5.69,0.0162\n5.70,0.0091\n5.71,0.0205\n5.72,0.0091\n5.75,0.0431\n5.76,0.0134\n5.77,0.0120\n5.78,-0.0029\n5.79,-0.0064\n5.80,0.0127\n5.82,0.0353\n5.83,0.0120\n5.85,-0.0100\n5.86,0.0063\n5.87,0.0077\n5.89,0.0134\n5.91,0.0021\n5.34,0.0091\n5.56,0.0120\n5.66,0.0106\n5.43,0.0505","format":{"type":"csv","parse":{"x":"number","y":"number"}}},
     "mark":{"type":"circle","size":5,"color":"#5a5a5a","opacity":1},
     "encoding":{"x":{"field":"x","type":"quantitative","scale":{"domain":[0,6],"nice":false,"zero":false},
                      "axis":{"values":[0.5,1.5,2.5,3.5,4.5,5.5],"labelExpr":"((datum.value - 0.5) % 2) == 0 ? 'F' : 'M'","title":"Sex","labelFontSize":18,"titleFontSize":20,"labelPadding":4,"titlePadding":1}},
                 "y":{"field":"y","type":"quantitative","scale":{"domain":[-0.0623,0.0562],"nice":false,"zero":false},
                      "axis":{"values":[-0.04,-0.02,0,0.02,0.04],"labelExpr":"datum.value < -0.0001 ? '- ' + format(-datum.value, '.2f') : format(datum.value, '.2f')","title":"Head shape","labelFontSize":15,"titleFontSize":20,"titlePadding":7}}}},
    {"data":{"values":[{"x":0.5,"y":-0.0189},{"x":1.5,"y":0.0059},{"x":2.5,"y":-0.0195},{"x":3.5,"y":0.0101},{"x":4.5,"y":-0.0198},{"x":5.5,"y":0.0118}]},
     "mark":{"type":"tick","orient":"horizontal","size":75,"thickness":3,"color":"#1e8fff","opacity":1},
     "encoding":{"x":{"field":"x","type":"quantitative","scale":{"domain":[0,6],"nice":false,"zero":false}},
                 "y":{"field":"y","type":"quantitative","scale":{"domain":[-0.0623,0.0562],"nice":false,"zero":false}}}},
    {"data":{"values":[{"x":2},{"x":4}]},
     "mark":{"type":"rule","color":"#555555","strokeWidth":1},
     "encoding":{"x":{"field":"x","type":"quantitative","scale":{"domain":[0,6],"nice":false,"zero":false}}}},
    {"data":{"values":[{"t":"d)"}]},
     "mark":{"type":"text","font":"Open Sans","fontSize":19,"align":"left","baseline":"alphabetic","color":"black"},
     "encoding":{"x":{"datum":0.074,"type":"quantitative","scale":{"domain":[0,6],"nice":false,"zero":false}},
                 "y":{"datum":0.0481,"type":"quantitative","scale":{"domain":[-0.0623,0.0562],"nice":false,"zero":false}},
                 "text":{"field":"t"}}}
   ]}
 ]}
],"spacing":42}
]
}
